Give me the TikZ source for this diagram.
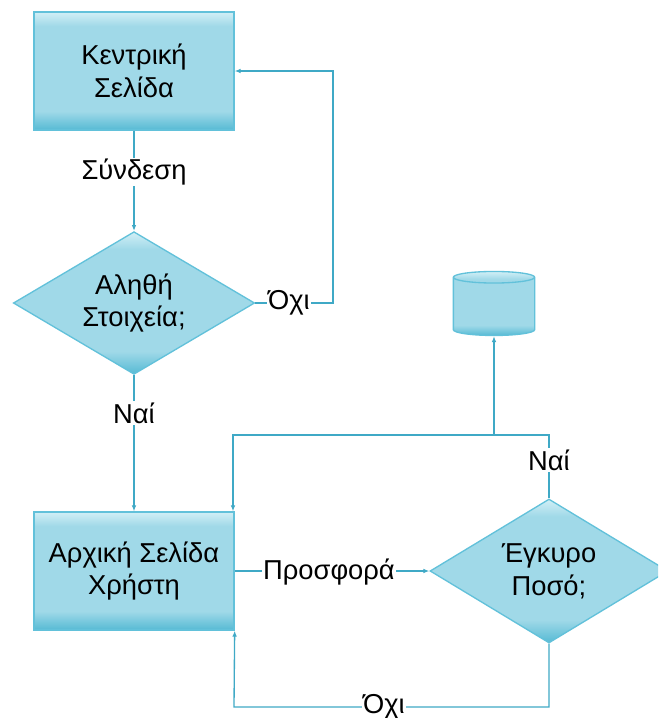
\documentclass[tikz,border=0pt]{standalone}
\usepackage{fontspec}
\setmainfont{Liberation Sans}
\usetikzlibrary{shapes.geometric,arrows.meta}
\definecolor{aqlight}{HTML}{D2EFF6}
\definecolor{aqmid}{HTML}{A0D9E8}
\definecolor{aqdark}{HTML}{56BAD4}
\definecolor{aqborder}{HTML}{62C1DA}
\definecolor{aqline}{HTML}{3FA9C6}
\pgfdeclareverticalshading{aquashade}{100bp}{color(0bp)=(aqdark); color(25bp)=(aqdark); color(33bp)=(aqmid); color(69bp)=(aqmid); color(75bp)=(aqlight); color(100bp)=(aqlight)}
\tikzset{
  pagebox/.style={rectangle, draw=aqborder, line width=1pt, shading=aquashade, minimum width=150pt, minimum height=88.5pt, align=center, inner sep=0pt},
  askbox/.style={diamond, shape aspect=1.7, draw=aqborder, line width=1pt, shading=aquashade, align=center, inner sep=0pt},
  storebox/.style={cylinder, shape border rotate=90, aspect=1.3, draw=aqborder, line width=1pt, shading=aquashade, minimum width=61pt, minimum height=48pt},
  lbl/.style={fill=white, inner sep=1pt},
  link/.style={draw=aqline, line width=1pt},
  arr/.style={link, -{Latex[length=4.5pt,width=3.5pt]}}
}
\begin{document}
\begin{tikzpicture}[x=0.75pt, y=-0.75pt, font=\fontsize{20.5}{24.5}\selectfont]
  \clip (0,0) rectangle (658,718);
  \fill[white] (0,0) rectangle (658,718);
  % shapes
  \node[pagebox] (home) at (134,71) {Κεντρική\\Σελίδα};
  \node[askbox, minimum width=181pt, minimum height=107pt] (check) at (134,303) {Αληθή\\Στοιχεία;};
  \node[pagebox] (user) at (134,571) {Αρχική Σελίδα\\Χρήστη};
  \node[askbox, minimum width=178.5pt, minimum height=108pt] (valid) at (549,571) {Έγκυρο\\Ποσό;};
  \node[storebox] (db) at (494,308) {};
  % corners
  \coordinate (backx) at (333,303);
  \coordinate (topy) at (233,435);
  \coordinate (boty) at (234,707);
  % connectors
  \draw[arr] (home.south) -- (check.north);
  \draw[arr] (check.east) -- (backx) |- (home.east);
  \draw[arr] (check.south) -- (user.north);
  \draw[arr] (user.east) -- (valid.west);
  \draw[arr] (valid.north) |- (topy) -- (topy |- user.north);
  \draw[arr] (db.south |- topy) -- (db.south);
  \draw[arr] (valid.south) |- (boty) -- (user.south east);
  % labels
  \node[lbl] (login) at (134,172) {Σύνδεση};
  \node[lbl] (no1) at (289,303) {Όχι};
  \node[lbl] (yes1) at (134,413) {Ναί};
  \node[lbl] (offer) at (329,572) {Προσφορά};
  \node[lbl] (yes2) at (549,460) {Ναί};
  \node[lbl] (no2) at (384,707) {Όχι};
\end{tikzpicture}
\end{document}
